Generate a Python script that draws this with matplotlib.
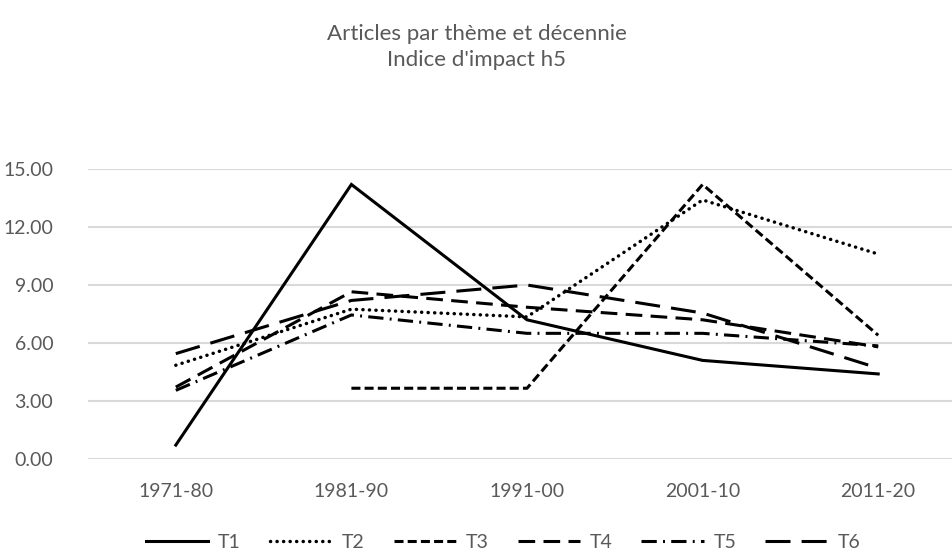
import numpy as np
import matplotlib
matplotlib.use('Agg')
from matplotlib import pyplot as plt

plt.rcParams['font.family'] = ['Lato', 'DejaVu Sans']
plt.rcParams['lines.scale_dashes'] = False

decades = ['1971-80', '1981-90', '1991-00', '2001-10', '2011-20']
t1 = [0.72, 14.2, 7.2, 5.1, 4.4]
t2 = [4.85, 7.75, 7.35, 13.4, 10.6]
t3 = [np.nan, 3.66, 3.66, 14.2, 6.4]
t4 = [3.72, 8.65, 7.85, 7.2, 5.8]
t5 = [3.55, 7.45, 6.5, 6.5, 5.85]
t6 = [5.45, 8.2, 9.0, 7.55, 4.7]
series = [t1, t2, t3, t4, t5, t6]
names = ['T1', 'T2', 'T3', 'T4', 'T5', 'T6']

# dash patterns in points
styles = [
    '-',
    (0, (0.1, 4.6)),
    (0, (6.5, 3.0)),
    (0, (12, 6)),
    (0, (11, 4.5, 1.4, 4.5)),
    (0, (18, 8)),
]
caps = ['butt', 'round', 'butt', 'butt', 'butt', 'butt']
widths = [2.2, 2.5, 2.2, 2.2, 2.2, 2.2]

grey = '#595959'
fig = plt.figure(figsize=(9.52, 5.54), dpi=100)
ax = fig.add_axes([88/952, 95/554, 878/952, 290/554])

x = np.arange(len(decades))
for s, nm, ls, cp, w in zip(series, names, styles, caps, widths):
    ax.plot(x, s, color='black', linestyle=ls, linewidth=w, label=nm,
            dash_capstyle=cp, solid_joinstyle='miter')

ax.set_xlim(-0.5, len(decades) - 0.5)
ax.set_ylim(0, 15)
ax.set_yticks(np.arange(0, 16, 3))
ax.set_yticklabels(['%.2f' % v for v in np.arange(0, 16, 3)])
ax.set_xticks(x)
ax.set_xticklabels(decades)
ax.tick_params(length=0, labelsize=14, colors=grey, pad=17)
ax.tick_params(axis='y', pad=25)
ax.grid(axis='y', color='#d9d9d9', linewidth=1.5)
ax.set_axisbelow(True)
for sp in ax.spines.values():
    sp.set_visible(False)

fig.text(0.501, 1 - 47/554, "Articles par thème et décennie\nIndice d'impact h5",
         ha='center', va='center', fontsize=16, color=grey, linespacing=1.35)

fig.legend(loc='center', bbox_to_anchor=(503/952, 1 - 542/554), ncol=6,
           frameon=False, fontsize=14, handlelength=3.2, handletextpad=0.5,
           columnspacing=1.5, labelcolor=grey)

fig.savefig('out.png', dpi=100)
